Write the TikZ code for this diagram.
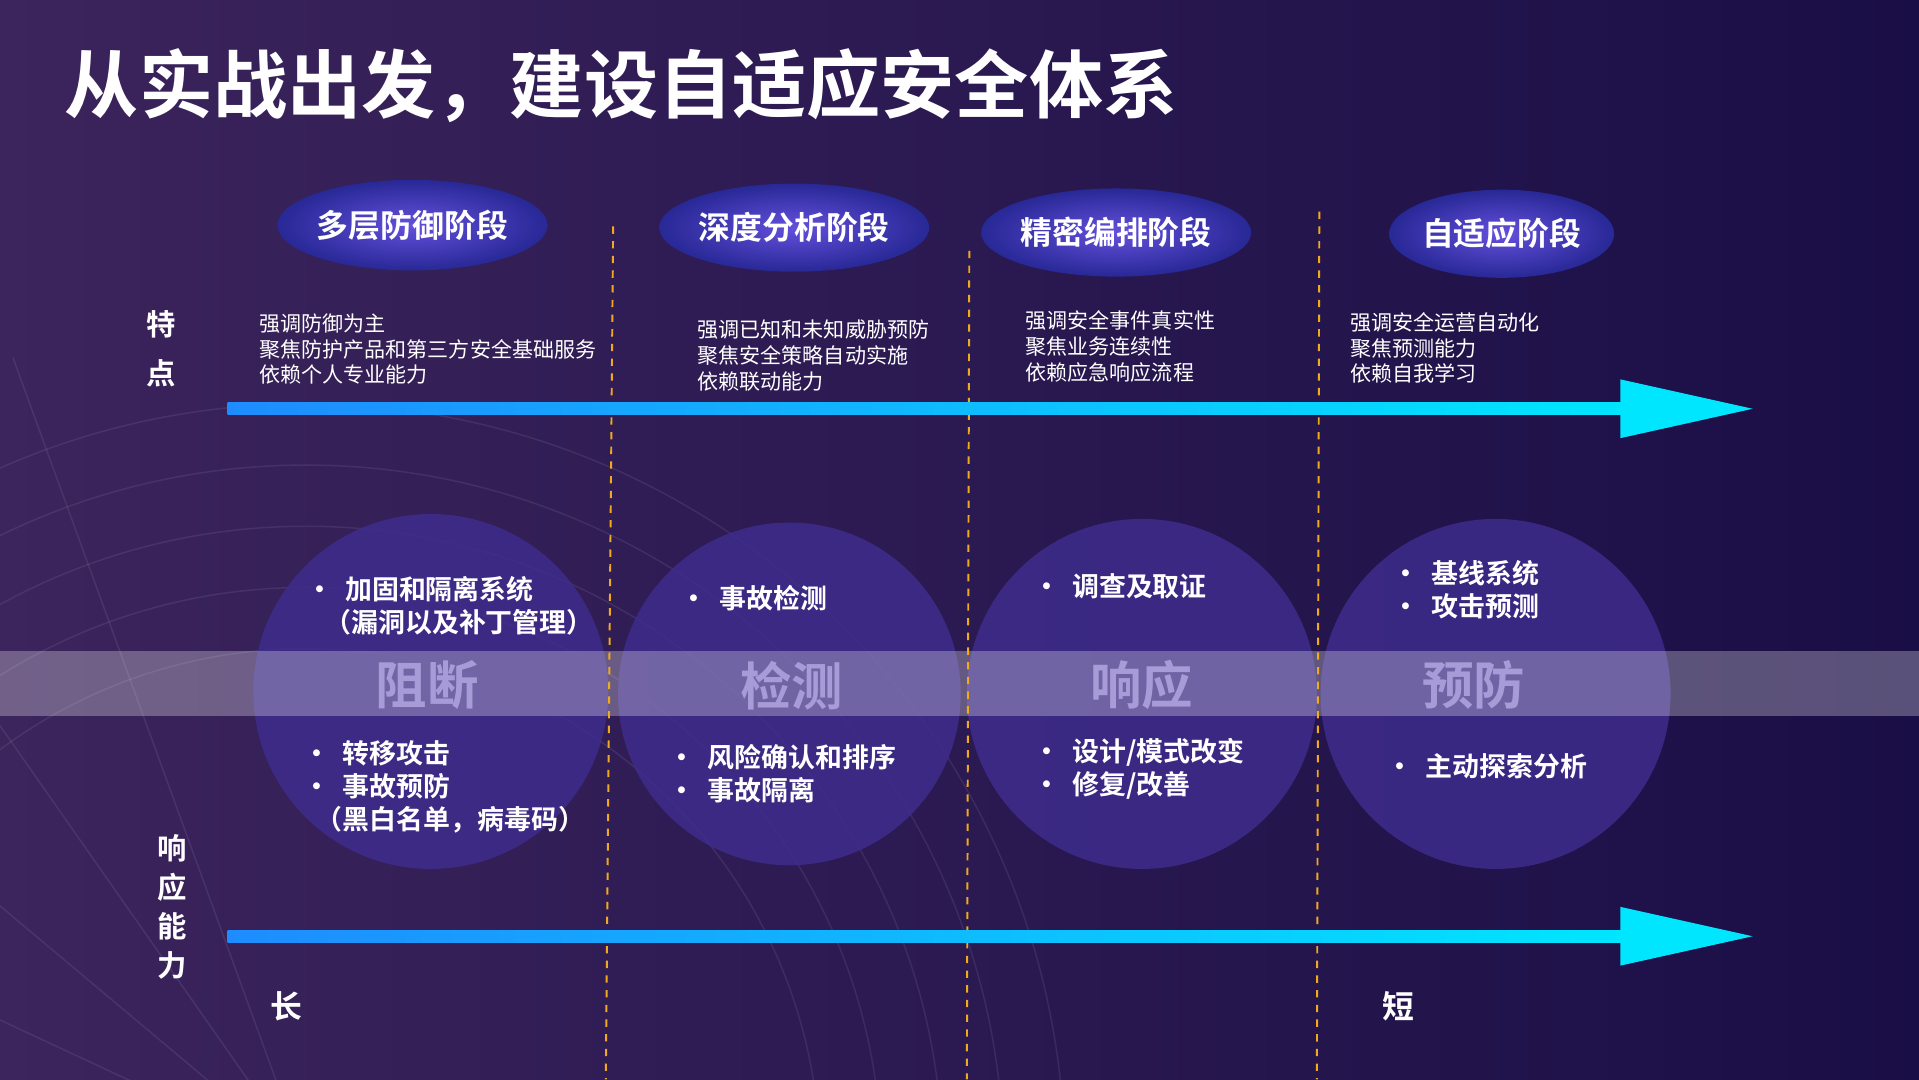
\documentclass[tikz,border=0pt]{standalone}
\usepackage{fontspec}
\setmainfont{Noto Sans CJK SC}[BoldFont={Noto Sans CJK SC Bold}]
\usetikzlibrary{shapes.geometric,arrows.meta,calc}
\definecolor{bgL}{RGB}{60,36,92}
\definecolor{bgR}{RGB}{26,14,70}
\definecolor{circ}{RGB}{62,44,140}
\definecolor{lab}{RGB}{168,156,216}
\definecolor{ell1}{RGB}{100,80,220}
\definecolor{ell2}{RGB}{40,40,150}
\definecolor{arrA}{RGB}{30,140,255}
\definecolor{arrB}{RGB}{0,230,255}
\definecolor{dash}{RGB}{240,170,30}
\tikzset{
 phase/.style={ellipse,inner sep=0pt,inner color=ell1,outer color=ell2,text=white,font=\bfseries\fontsize{13}{15}\selectfont},
 feat/.style={anchor=north west,align=left,text=white,font=\fontsize{8.6}{10.6}\selectfont},
 ring/.style={circle,fill=circ,fill opacity=0.85},
 big/.style={text=lab,font=\bfseries\fontsize{21}{24}\selectfont},
 bul/.style={anchor=west,align=left,text=white,font=\bfseries\fontsize{11}{13.5}\selectfont},
 vlab/.style={text=white,font=\bfseries\fontsize{12}{16}\selectfont,align=center},
 sep/.style={draw=dash,dashed,line width=0.8pt},
}
\begin{document}
\begin{tikzpicture}[x=0.5pt,y=-0.5pt]
\useasboundingbox (0,0) rectangle (1568,882);
\shade[left color=bgL,right color=bgR] (0,0) rectangle (1568,882);
% faint mesh sphere bottom-left
\begin{scope}
\clip (0,0) rectangle (1568,882);
\foreach \r in {420,470,520,570,620} {\draw[white,opacity=0.08,line width=0.6pt] (250,950) circle (\r);}
\foreach \a in {100,115,...,250} {\draw[white,opacity=0.08,line width=0.6pt] (250,950) -- ++(\a:700);}
\end{scope}
\node[anchor=west,text=white,font=\bfseries\fontsize{30.3}{34}\selectfont] (title) at (46,70) {从实战出发，建设自适应安全体系};
% circles
\node[ring,minimum size=145pt] (c1) at (352,565) {};
\node[ring,minimum size=140pt] (c2) at (645,567) {};
\node[ring,minimum size=143pt] (c3) at (933,567) {};
\node[ring,minimum size=143pt] (c4) at (1222,567) {};
\fill[white,opacity=0.28] (0,532) rectangle (1568,585);
% dashed separators
\coordinate (d1t) at (501,185); \coordinate (d1b) at (495,882);
\coordinate (d2t) at (792,205); \coordinate (d2b) at (790,882);
\coordinate (d3t) at (1078,173); \coordinate (d3b) at (1076,882);
\draw[sep] (d1t) -- (d1b); \draw[sep] (d2t) -- (d2b); \draw[sep] (d3t) -- (d3b);
% phases
\node[phase,minimum width=107pt,minimum height=37pt] (p1) at (337,184) {多层防御阶段};
\node[phase,minimum width=95pt,minimum height=36pt] (p2) at (649,186) {深度分析阶段};
\node[phase,minimum width=86pt,minimum height=36pt] (p3) at (912,190) {精密编排阶段};
\node[phase,minimum width=85pt,minimum height=36pt] (p4) at (1227,191) {自适应阶段};
\node[vlab] (tedian) at (132,285) {特\\[4pt]点};
\node[feat] (f1) at (205,249) {强调防御为主\\聚焦防护产品和第三方安全基础服务\\依赖个人专业能力};
\node[feat] (f2) at (563,254) {强调已知和未知威胁预防\\聚焦安全策略自动实施\\依赖联动能力};
\node[feat] (f3) at (831,247) {强调安全事件真实性\\聚焦业务连续性\\依赖应急响应流程};
\node[feat] (f4) at (1096,248) {强调安全运营自动化\\聚焦预测能力\\依赖自我学习};
% arrows
\coordinate (a1s) at (186,334); \coordinate (a1e) at (1432,334);
\coordinate (a2s) at (186,765); \coordinate (a2e) at (1432,765);
\foreach \s/\e in {a1s/a1e,a2s/a2e} {
 \shade[left color=arrA,right color=arrB] ($(\s)+(0,-5)$) rectangle ($(\e)+(-105,5)$);
 \fill[arrB] ($(\e)+(-108,-24)$) -- (\e) -- ($(\e)+(-108,24)$) -- cycle;
}
% big labels
\node[big] (b1) at (349,560) {阻断};
\node[big] (b2) at (647,560) {检测};
\node[big] (b3) at (933,560) {响应};
\node[big] (b4) at (1204,560) {预防};
% bullets
\node[bul] (u1) at (243,495) {•\ \ 加固和隔离系统\\\ \ \ （漏洞以及补丁管理）};
\node[bul] (u2) at (549,489) {•\ \ 事故检测};
\node[bul] (u3) at (837,479) {•\ \ 调查及取证};
\node[bul] (u4) at (1131,482) {•\ \ 基线系统\\•\ \ 攻击预测};
\node[bul] (l1) at (241,643) {•\ \ 转移攻击\\•\ \ 事故预防\\\ \ （黑白名单，病毒码）};
\node[bul] (l2) at (539,632) {•\ \ 风险确认和排序\\•\ \ 事故隔离};
\node[bul] (l3) at (837,628) {•\ \ 设计/模式改变\\•\ \ 修复/改善};
\node[bul] (l4) at (1126,626) {•\ \ 主动探索分析};
\node[vlab] (resp) at (141,741) {响\\应\\能\\力};
\node[vlab,font=\bfseries\fontsize{13}{15}\selectfont] (chang) at (234,822) {长};
\node[vlab,font=\bfseries\fontsize{13}{15}\selectfont] (duan) at (1143,822) {短};
\end{tikzpicture}
\end{document}
